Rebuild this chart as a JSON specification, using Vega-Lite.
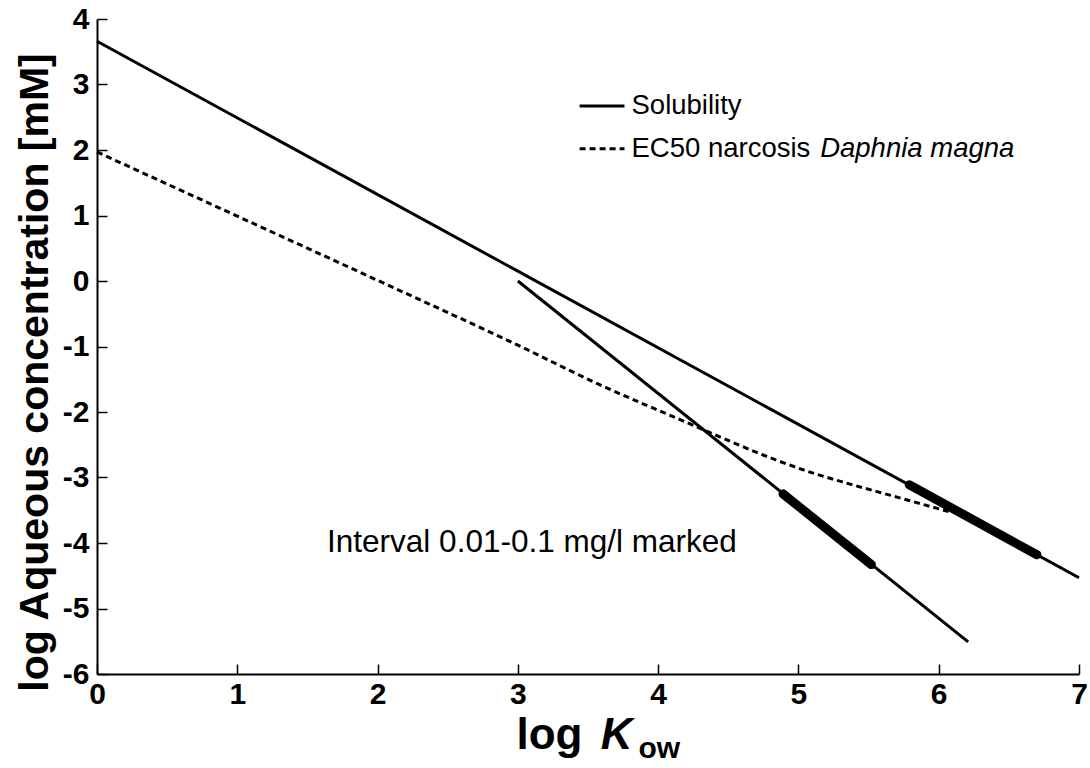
{
  "$schema": "https://vega.github.io/schema/vega-lite/v6.json",
  "width": 982,
  "height": 655,
  "autosize": {"type": "none"},
  "padding": {"left": 97, "top": 19, "right": 11, "bottom": 94},
  "background": "white",
  "config": {"view": {"stroke": null}, "font": "Liberation Sans"},
  "datasets": {
    "curves": [
      {"series": "Solubility", "x": 0, "y": 3.66},
      {"series": "Solubility", "x": 7, "y": -4.53},
      {"series": "Steep", "x": 3, "y": 0},
      {"series": "Steep", "x": 6.21, "y": -5.51}
    ],
    "ec50": [
      {"x": 0, "y": 1.97},
      {"x": 1, "y": 0.99},
      {"x": 2, "y": 0.01},
      {"x": 3, "y": -0.98},
      {"x": 3.59, "y": -1.59},
      {"x": 4.16, "y": -2.12},
      {"x": 4.3, "y": -2.25},
      {"x": 4.85, "y": -2.74},
      {"x": 5.1, "y": -2.93},
      {"x": 5.35, "y": -3.09},
      {"x": 5.67, "y": -3.28},
      {"x": 6.07, "y": -3.52}
    ],
    "marked": [
      {"series": "Steep", "x": 4.89, "y": -3.25},
      {"series": "Steep", "x": 5.52, "y": -4.33},
      {"series": "Solubility", "x": 5.79, "y": -3.11},
      {"series": "Solubility", "x": 6.7, "y": -4.18}
    ],
    "legendLines": [
      {"series": "Solubility", "x": 3.44, "y": 2.67},
      {"series": "Solubility", "x": 3.76, "y": 2.67}
    ],
    "legendDash": [
      {"series": "EC50", "x": 3.44, "y": 2.02},
      {"series": "EC50", "x": 3.76, "y": 2.02}
    ],
    "labelsRegular": [
      {"x": 3.81, "y": 2.67, "text": "Solubility"},
      {"x": 3.81, "y": 2.02, "text": "EC50 narcosis"}
    ],
    "labelsItalic": [
      {"x": 5.155, "y": 2.02, "text": "Daphnia magna"}
    ],
    "note": [
      {"x": 1.64, "y": -4.0, "text": "Interval 0.01-0.1 mg/l marked"}
    ],
    "xTitleMain": [
      {"x": 2.99, "y": -7.14, "text": "log"}
    ],
    "xTitleK": [
      {"x": 3.59, "y": -7.14, "text": "K"}
    ],
    "xTitleSub": [
      {"x": 3.86, "y": -7.28, "text": "ow"}
    ]
  },
  "layer": [
    {
      "data": {"name": "curves"},
      "mark": {"type": "line", "color": "black", "strokeWidth": 3},
      "encoding": {
        "x": {
          "field": "x", "type": "quantitative",
          "scale": {"domain": [0, 7], "nice": false, "zero": false},
          "axis": {
            "values": [0, 1, 2, 3, 4, 5, 6, 7],
            "title": null,
            "grid": false,
            "domainColor": "black", "domainWidth": 2,
            "tickColor": "black", "tickWidth": 1.5, "tickSize": -10,
            "labelFont": "Liberation Sans", "labelFontSize": 30, "labelFontWeight": "bold", "labelColor": "black",
            "labelPadding": 15, "labelFlush": false, "labelBound": false, "labelOverlap": false,
            "labelExpr": "datum.value + ''"
          }
        },
        "y": {
          "field": "y", "type": "quantitative",
          "scale": {"domain": [-6, 4], "nice": false, "zero": false},
          "axis": {
            "values": [-6, -5, -4, -3, -2, -1, 0, 1, 2, 3, 4],
            "title": "log Aqueous concentration [mM]",
            "titleFont": "Liberation Sans", "titleFontSize": 41, "titleFontWeight": "bold", "titleColor": "black",
            "titlePadding": 6, "titleY": 353,
            "grid": false,
            "domainColor": "black", "domainWidth": 2,
            "tickColor": "black", "tickWidth": 1.5, "tickSize": -10,
            "labelFont": "Liberation Sans", "labelFontSize": 30, "labelFontWeight": "bold", "labelColor": "black",
            "labelPadding": 18, "labelFlush": false, "labelBound": false, "labelOverlap": false,
            "labelExpr": "datum.value + ''"
          }
        },
        "detail": {"field": "series"}
      }
    },
    {
      "data": {"name": "ec50"},
      "mark": {"type": "line", "color": "black", "strokeWidth": 3, "strokeDash": [6, 4], "interpolate": "monotone"},
      "encoding": {
        "x": {"field": "x", "type": "quantitative"},
        "y": {"field": "y", "type": "quantitative"}
      }
    },
    {
      "data": {"name": "marked"},
      "mark": {"type": "line", "color": "black", "strokeWidth": 9, "strokeCap": "round"},
      "encoding": {
        "x": {"field": "x", "type": "quantitative"},
        "y": {"field": "y", "type": "quantitative"},
        "detail": {"field": "series"}
      }
    },
    {
      "data": {"name": "legendLines"},
      "mark": {"type": "line", "color": "black", "strokeWidth": 3},
      "encoding": {
        "x": {"field": "x", "type": "quantitative"},
        "y": {"field": "y", "type": "quantitative"}
      }
    },
    {
      "data": {"name": "legendDash"},
      "mark": {"type": "line", "color": "black", "strokeWidth": 3, "strokeDash": [6, 4]},
      "encoding": {
        "x": {"field": "x", "type": "quantitative"},
        "y": {"field": "y", "type": "quantitative"}
      }
    },
    {
      "data": {"name": "labelsRegular"},
      "mark": {"type": "text", "align": "left", "baseline": "middle", "font": "Liberation Sans", "fontSize": 27.5, "color": "black"},
      "encoding": {
        "x": {"field": "x", "type": "quantitative"},
        "y": {"field": "y", "type": "quantitative"},
        "text": {"field": "text"}
      }
    },
    {
      "data": {"name": "labelsItalic"},
      "mark": {"type": "text", "align": "left", "baseline": "middle", "font": "Liberation Sans", "fontSize": 27.5, "fontStyle": "italic", "color": "black"},
      "encoding": {
        "x": {"field": "x", "type": "quantitative"},
        "y": {"field": "y", "type": "quantitative"},
        "text": {"field": "text"}
      }
    },
    {
      "data": {"name": "note"},
      "mark": {"type": "text", "align": "left", "baseline": "middle", "font": "Liberation Sans", "fontSize": 31.5, "color": "black"},
      "encoding": {
        "x": {"field": "x", "type": "quantitative"},
        "y": {"field": "y", "type": "quantitative"},
        "text": {"field": "text"}
      }
    },
    {
      "data": {"name": "xTitleMain"},
      "mark": {"type": "text", "align": "left", "baseline": "alphabetic", "font": "Liberation Sans", "fontSize": 44, "fontWeight": "bold", "color": "black"},
      "encoding": {
        "x": {"field": "x", "type": "quantitative"},
        "y": {"field": "y", "type": "quantitative"},
        "text": {"field": "text"}
      }
    },
    {
      "data": {"name": "xTitleK"},
      "mark": {"type": "text", "align": "left", "baseline": "alphabetic", "font": "Liberation Sans", "fontSize": 44, "fontWeight": "bold", "fontStyle": "italic", "color": "black"},
      "encoding": {
        "x": {"field": "x", "type": "quantitative"},
        "y": {"field": "y", "type": "quantitative"},
        "text": {"field": "text"}
      }
    },
    {
      "data": {"name": "xTitleSub"},
      "mark": {"type": "text", "align": "left", "baseline": "alphabetic", "font": "Liberation Sans", "fontSize": 30, "fontWeight": "bold", "color": "black"},
      "encoding": {
        "x": {"field": "x", "type": "quantitative"},
        "y": {"field": "y", "type": "quantitative"},
        "text": {"field": "text"}
      }
    }
  ]
}
